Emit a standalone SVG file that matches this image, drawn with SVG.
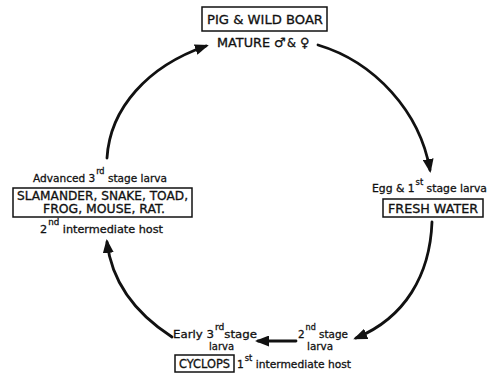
<svg xmlns="http://www.w3.org/2000/svg" width="497" height="374" viewBox="0 0 497 374">
<style>
text{font-family:"DejaVu Sans","Liberation Sans",sans-serif;fill:#111;stroke:#111;stroke-width:0.3;font-size:11px}
.cap{font-size:11.5px}
.sup{font-size:8.5px}
.box{fill:#fff;stroke:#111;stroke-width:1.5}
.c{fill:none;stroke:#111;stroke-width:2.8;stroke-linecap:round}
</style>
<defs>
<marker id="ah" viewBox="0 0 14 11" refX="11" refY="5.5" markerWidth="14" markerHeight="11" markerUnits="userSpaceOnUse" orient="auto">
<path d="M0,0 L14,5.5 L0,11 Z" fill="#111"/>
</marker>
</defs>
<rect width="497" height="374" fill="#fff"/>
<g id="connectors">
<path class="c" d="M318,45 C375,62 420,112 430,170" marker-end="url(#ah)"/>
<path class="c" d="M432,222 C430,275 405,318 356,338" marker-end="url(#ah)"/>
<path class="c" d="M296,341 L258,341" marker-end="url(#ah)"/>
<path class="c" d="M172,337 C138,315 112,285 107,242" marker-end="url(#ah)"/>
<path class="c" d="M107,158 C110,108 148,66 206,46" marker-end="url(#ah)"/>
</g>
<g id="node-pig">
<rect class="box" x="202" y="7" width="125" height="24"/>
<text x="207" y="24" style="font-size:12.5px" textLength="116" lengthAdjust="spacingAndGlyphs">PIG &amp; WILD BOAR</text>
<text x="217" y="47" class="cap" textLength="53" lengthAdjust="spacingAndGlyphs">MATURE</text>
<text x="274" y="47" style="font-size:13px">♂</text>
<text x="287" y="47" class="cap">&amp;</text>
<text x="300" y="47" style="font-size:13px">♀</text>
</g>
<g id="node-water">
<text x="372" y="192" textLength="115" lengthAdjust="spacingAndGlyphs">Egg &amp; 1<tspan class="sup" dx="1" dy="-7">st</tspan><tspan dy="7"> stage larva</tspan></text>
<rect class="box" x="383" y="199" width="100" height="18"/>
<text x="388" y="213" class="cap" textLength="90" lengthAdjust="spacingAndGlyphs">FRESH WATER</text>
</g>
<g id="node-cyclops">
<text x="298" y="338" textLength="50" lengthAdjust="spacingAndGlyphs">2<tspan class="sup" dx="1" dy="-8">nd</tspan><tspan dy="8"> stage</tspan></text>
<text x="307" y="350" textLength="26" lengthAdjust="spacingAndGlyphs">larva</text>
<text x="173" y="338" textLength="84" lengthAdjust="spacingAndGlyphs">Early 3<tspan class="sup" dx="1" dy="-8">rd</tspan><tspan dy="8">stage</tspan></text>
<text x="209" y="350" textLength="25" lengthAdjust="spacingAndGlyphs">larva</text>
<rect class="box" x="175" y="355" width="59" height="17"/>
<text x="179" y="368" class="cap" textLength="51" lengthAdjust="spacingAndGlyphs">CYCLOPS</text>
<text x="237" y="368" textLength="114" lengthAdjust="spacingAndGlyphs">1<tspan class="sup" dx="1" dy="-7">st</tspan><tspan dy="7"> intermediate host</tspan></text>
</g>
<g id="node-host2">
<text x="33" y="182" textLength="134" lengthAdjust="spacingAndGlyphs">Advanced 3<tspan class="sup" dx="1" dy="-8">rd</tspan><tspan dy="8"> stage larva</tspan></text>
<rect class="box" x="13" y="188" width="179" height="29"/>
<text x="17" y="200" class="cap" textLength="171" lengthAdjust="spacingAndGlyphs">SLAMANDER, SNAKE, TOAD,</text>
<text x="43" y="213" class="cap" textLength="122" lengthAdjust="spacingAndGlyphs">FROG, MOUSE, RAT.</text>
<text x="40" y="233" textLength="123" lengthAdjust="spacingAndGlyphs">2<tspan class="sup" dx="1" dy="-8">nd</tspan><tspan dy="8"> intermediate host</tspan></text>
</g>
</svg>
